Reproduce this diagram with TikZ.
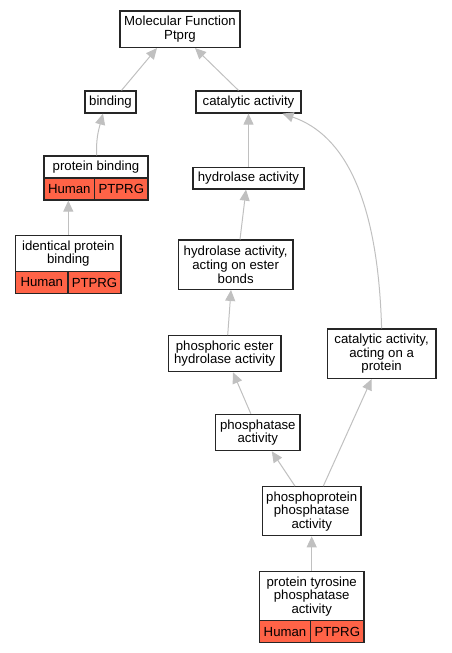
\documentclass[tikz,border=0pt]{standalone}
\usepackage{fontspec}
\setmainfont{Liberation Sans}
\usetikzlibrary{arrows.meta}
\definecolor{edgegray}{RGB}{192,192,192}
\definecolor{orthored}{RGB}{255,99,71}

\begin{document}
\begin{tikzpicture}[x=1pt,y=-1pt,
    term/.style={draw=black!85, line width=1.2pt, fill=white, inner sep=0pt, align=center,
        font=\fontsize{13.2}{13.6}\selectfont},
    cell/.style={term, fill=orthored, minimum height=22pt},
    isa/.style={draw=edgegray, line width=1pt, -{Triangle[length=11pt,width=10pt]}}]
    \useasboundingbox (0,0) rectangle (451,653);

    \node[term, minimum width=120pt, minimum height=36.5pt] (mf) at (180,29.2) {Molecular Function\\Ptprg};
    \node[term, minimum width=51pt, minimum height=22pt] (bind) at (110.5,102) {binding};
    \node[term, minimum width=105pt, minimum height=22pt] (cat) at (248.5,102) {catalytic activity};

    %%%%%%%%%%%%%%%%%%%%%%%%%%%%%%%%%%%%
    % annotated terms with the Human / PTPRG row
    %%%%%%%%%%%%%%%%%%%%%%%%%%%%%%%%%%%%
    \node[term, minimum width=104pt, minimum height=22pt] (pb) at (96,167) {protein binding};
    \node[cell, minimum width=50.7pt] (pbH) at (69.3,189) {Human};
    \node[cell, minimum width=53.3pt] (pbP) at (121.3,189) {PTPRG};

    \node[term, minimum width=105.3pt, minimum height=36.4pt] (ipb) at (68.3,253.5) {identical protein\\binding};
    \node[cell, minimum width=52.3pt] (ipbH) at (41.8,282.5) {Human};
    \node[cell, minimum width=53pt] (ipbP) at (94.5,282.5) {PTPRG};

    \node[term, minimum width=104.7pt, minimum height=49pt] (ptp) at (311.7,596.2) {protein tyrosine\\phosphatase\\activity};
    \node[cell, minimum width=51.4pt] (ptpH) at (285,631.7) {Human};
    \node[cell, minimum width=53.3pt] (ptpP) at (337.3,631.7) {PTPRG};

    % the hydrolase branch
    \node[term, minimum width=111pt, minimum height=21.7pt] (hyd) at (248.5,178.2) {hydrolase activity};
    \node[term, minimum width=114.5pt, minimum height=49.3pt] (hes) at (235.7,264.7) {hydrolase activity,\\acting on ester\\bonds};
    \node[term, minimum width=112.5pt, minimum height=36pt] (pehs) at (224.7,353.7) {phosphoric ester\\hydrolase activity};
    \node[term, minimum width=108.7pt, minimum height=49.5pt] (cap) at (381.6,353.7) {catalytic activity,\\acting on a\\protein};
    \node[term, minimum width=84.3pt, minimum height=36.4pt] (pha) at (257.8,432.5) {phosphatase\\activity};
    \node[term, minimum width=98.5pt, minimum height=49pt] (ppa) at (311.7,511.2) {phosphoprotein\\phosphatase\\activity};

    % is_a edges, child to parent
    \draw[isa] ([xshift=11pt]bind.north) -- ([xshift=-23pt]mf.south);
    \draw[isa] ([xshift=-10pt]cat.north) -- ([xshift=15pt]mf.south);
    \draw[isa] ([xshift=0.7pt]pb.north) to[out=93,in=-105] ([xshift=-7.5pt]bind.south);
    \draw[isa] (ipb.north) -- (ipb.north |- pbH.south);
    \draw[isa] (hyd.north) -- (cat.south);
    \draw[isa] ([xshift=4.3pt]hes.north) -- ([xshift=-2.5pt]hyd.south);
    \draw[isa] ([xshift=3pt]pehs.north) -- ([xshift=-4.7pt]hes.south);
    \draw[isa] ([xshift=-7pt]pha.north) -- ([xshift=8.3pt]pehs.south);
    \draw[isa] ([xshift=-16.7pt]ppa.north) -- ([xshift=14pt]pha.south);
    \draw[isa] ([xshift=11.6pt]ppa.north) -- ([xshift=-10pt]cap.south);
    \draw[isa] (ptp.north) -- (ppa.south);
    \draw[isa] (cap.north) .. controls (378,200) and (345,135) .. ([xshift=34pt]cat.south);

\end{tikzpicture}
\end{document}
